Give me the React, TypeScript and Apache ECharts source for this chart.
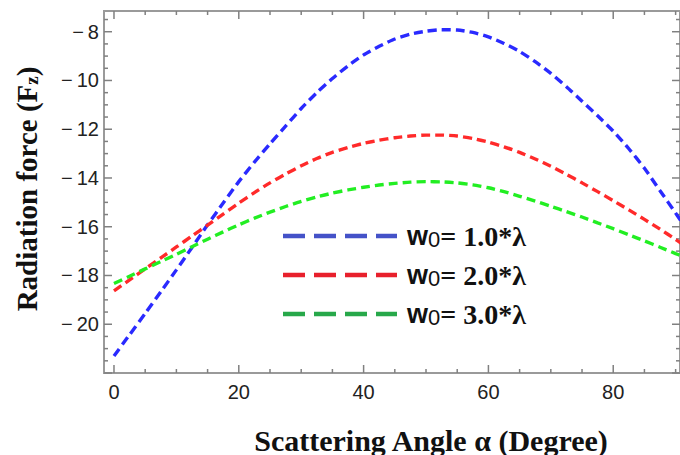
import React, { useEffect, useRef } from "react";
import * as echarts from "echarts";

// Scattering angle (degree)
const angles = [0, 2.5, 5, 7.5, 10, 12.5, 15, 17.5, 20, 22.5, 25, 27.5, 30, 32.5, 35, 37.5, 40, 42.5, 45, 47.5, 50, 52.5, 55, 57.5, 60, 62.5, 65, 67.5, 70, 72.5, 75, 77.5, 80, 82.5, 85, 87.5, 90, 91];
// Radiation force Fz for each beam waist
const forceW1 = [-21.3, -20.43, -19.56, -18.67, -17.77, -16.85, -15.92, -15.03, -14.15, -13.35, -12.6, -11.87, -11.15, -10.5, -9.92, -9.4, -8.95, -8.6, -8.3, -8.1, -7.98, -7.92, -7.93, -8.03, -8.21, -8.48, -8.81, -9.23, -9.71, -10.26, -10.85, -11.45, -12.08, -12.8, -13.6, -14.52, -15.44, -15.82];
const forceW2 = [-18.63, -18.18, -17.73, -17.28, -16.83, -16.38, -15.93, -15.48, -15.03, -14.6, -14.2, -13.84, -13.5, -13.2, -12.95, -12.75, -12.58, -12.45, -12.35, -12.28, -12.24, -12.24, -12.28, -12.38, -12.53, -12.72, -12.95, -13.22, -13.52, -13.85, -14.2, -14.56, -14.93, -15.31, -15.7, -16.1, -16.52, -16.7];
const forceW3 = [-18.33, -18.03, -17.73, -17.43, -17.13, -16.82, -16.51, -16.21, -15.92, -15.65, -15.4, -15.17, -14.96, -14.78, -14.62, -14.49, -14.38, -14.29, -14.22, -14.17, -14.15, -14.16, -14.2, -14.28, -14.4, -14.56, -14.75, -14.95, -15.16, -15.38, -15.6, -15.84, -16.08, -16.33, -16.58, -16.84, -17.1, -17.2];

const seriesNames = ["w0= 1.0*λ", "w0= 2.0*λ", "w0= 3.0*λ"];
const legendValues = ["1.0", "2.0", "3.0"];

// Tick positions and tick labels
const xLabelTicks = [0, 20, 40, 60, 80];
const xMinorTicks = [0, 5, 10, 15, 20, 25, 30, 35, 40, 45, 50, 55, 60, 65, 70, 75, 80, 85, 90];
const yMajorTicks = [-22, -20, -18, -16, -14, -12, -10, -8];
const yLabelTicks = [-20, -18, -16, -14, -12, -10, -8];
const yMinorTicks = [-22, -21.5, -21, -20.5, -20, -19.5, -19, -18.5, -18, -17.5, -17, -16.5, -16, -15.5, -15, -14.5, -14, -13.5, -13, -12.5, -12, -11.5, -11, -10.5, -10, -9.5, -9, -8.5, -8, -7.5];

const X_MIN = -1.6;
const X_MAX = 90.7;
const Y_MIN = -22;
const Y_MAX = -7.15;

// grid placement (px)
const GRID_LEFT = 104;
const GRID_TOP = 11;
const GRID_RIGHT = 0;
const GRID_BOTTOM = 82;
const CHART_W = 680;
const CHART_H = 455;

const frameColor = "#9a9a9a";
const tickColor = "#808080";
const labelFont = "'Liberation Sans', Arial, sans-serif";
const serifFont = "'Liberation Serif', 'Times New Roman', serif";

export default function App() {
  const ref = useRef<HTMLDivElement>(null);

  useEffect(() => {
    if (!ref.current) return;
    const chart = echarts.init(ref.current, undefined, { renderer: "svg" });

    const curveColors = ["#2a2aff", "#ff2a2a", "#22ee22"];
    const legendColors = ["#4452c8", "#e8202c", "#27a84a"];
    const data = [forceW1, forceW2, forceW3];

    const legendRowsY = [236, 275, 314];
    const graphics: any[] = [];
    legendRowsY.forEach((y, i) => {
      graphics.push({
        type: "line",
        shape: { x1: 283, y1: y, x2: 397, y2: y },
        style: { stroke: legendColors[i], lineWidth: 4.5, lineDash: [22, 9] },
        silent: true,
      });
      graphics.push({
        type: "text",
        x: 407,
        y: y,
        style: {
          text: `{w|w}{z|0}{e|=}{t| ${legendValues[i]}*λ}`,
          align: "left",
          verticalAlign: "middle",
          fill: "#111",
          rich: {
            w: { fontFamily: labelFont, fontWeight: "bold", fontSize: 27, fill: "#111" },
            z: { fontFamily: labelFont, fontSize: 22, fill: "#111", padding: [6, 0, 0, 0] },
            e: { fontFamily: serifFont, fontWeight: "bold", fontSize: 28, fill: "#111" },
            t: { fontFamily: serifFont, fontWeight: "bold", fontSize: 28, fill: "#111" },
          },
        },
        silent: true,
      });
    });
    graphics.push(
      {
        type: "text",
        x: 431,
        y: 440,
        style: {
          text: "Scattering Angle α (Degree)",
          fontFamily: serifFont,
          fontWeight: "bold",
          fontSize: 30,
          fill: "#111",
          align: "center",
          verticalAlign: "middle",
        },
        silent: true,
      },
      {
        type: "text",
        x: 27,
        y: 189,
        rotation: Math.PI / 2,
        style: {
          text: "{a|Radiation force (F}{s|z}{a|)}",
          align: "center",
          verticalAlign: "middle",
          fill: "#111",
          rich: {
            a: { fontFamily: serifFont, fontWeight: "bold", fontSize: 29, fill: "#111" },
            s: { fontFamily: serifFont, fontWeight: "bold", fontSize: 19, fill: "#111", padding: [8, 0, 0, 0] },
          },
        },
        silent: true,
      }
    );

    // Frame ticks (inside, on all four sides) as short segments in data space.
    const plotW = CHART_W - GRID_LEFT - GRID_RIGHT;
    const plotH = CHART_H - GRID_TOP - GRID_BOTTOM;
    const dxPerPx = (X_MAX - X_MIN) / plotW;
    const dyPerPx = (Y_MAX - Y_MIN) / plotH;
    const tickSeries: any[] = [];
    const addSeg = (a: number[], b: number[]) => {
      tickSeries.push({
        type: "line",
        data: [a, b],
        showSymbol: false,
        symbol: "none",
        clip: false,
        silent: true,
        z: 2,
        lineStyle: { color: tickColor, width: 1.5, type: "solid" },
      });
    };
    const xTick = (v: number, len: number) => {
      addSeg([v, Y_MIN], [v, Y_MIN + len * dyPerPx]);
      addSeg([v, Y_MAX], [v, Y_MAX - len * dyPerPx]);
    };
    const yTick = (v: number, len: number) => {
      addSeg([X_MIN, v], [X_MIN + len * dxPerPx, v]);
      addSeg([X_MAX, v], [X_MAX - len * dxPerPx, v]);
    };
    xMinorTicks.filter((v) => !xLabelTicks.includes(v)).forEach((v) => xTick(v, 4));
    xLabelTicks.forEach((v) => xTick(v, 8));
    yMinorTicks.filter((v) => !yMajorTicks.includes(v)).forEach((v) => yTick(v, 4));
    yMajorTicks.forEach((v) => yTick(v, 8));

    chart.setOption({
      animation: false,
      backgroundColor: "#ffffff",
      grid: {
        left: GRID_LEFT,
        top: GRID_TOP,
        right: GRID_RIGHT,
        bottom: GRID_BOTTOM,
        containLabel: false,
        outerBoundsMode: "none",
        show: true,
        borderColor: frameColor,
        borderWidth: 2,
        backgroundColor: "transparent",
      },
      xAxis: {
        type: "value",
        min: X_MIN,
        max: X_MAX,
        axisLine: { show: false },
        axisTick: { show: false },
        axisLabel: { show: true, customValues: xLabelTicks, margin: 9, fontFamily: labelFont, fontSize: 20, color: "#222" },
        splitLine: { show: false },
      },
      yAxis: {
        type: "value",
        min: Y_MIN,
        max: Y_MAX,
        axisLine: { show: false },
        axisTick: { show: false },
        axisLabel: {
          show: true,
          customValues: yLabelTicks,
          margin: 5,
          fontFamily: labelFont,
          fontSize: 20,
          color: "#222",
          formatter: (v: number) => (v < 0 ? "\u2212\u2009" + Math.abs(v) : String(v)),
        },
        splitLine: { show: false },
      },
      series: [
        ...tickSeries,
        ...data.map((vals, i) => ({
          name: seriesNames[i],
          type: "line",
          data: angles.map((a, j) => [a, vals[j]]),
          smooth: 0.2,
          showSymbol: false,
          symbol: "none",
          clip: true,
          z: 3,
          lineStyle: { color: curveColors[i], width: 3.4, type: [9, 5] },
        })),
      ],
      graphic: graphics,
    });

    return () => chart.dispose();
  }, []);

  return (
    <div
      ref={ref}
      style={{ position: "fixed", left: 0, top: 0, width: CHART_W, height: CHART_H, background: "#fff" }}
    />
  );
}
